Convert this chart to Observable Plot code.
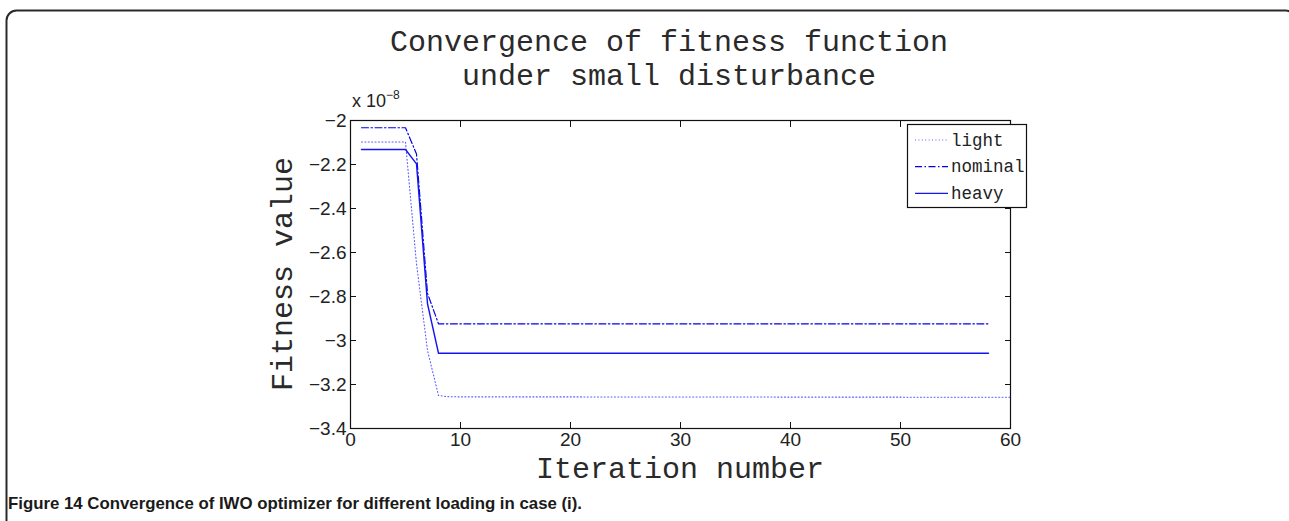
<!DOCTYPE html>
<html><head><meta charset="utf-8">
<script src="https://cdn.jsdelivr.net/npm/d3@7"></script>
<script src="https://cdn.jsdelivr.net/npm/@observablehq/plot@0.6"></script>
<style>
html,body{margin:0;padding:0;background:#fff;}
#wrap{position:relative;width:1289px;height:521px;overflow:hidden;}
#wrap svg{position:absolute;left:0;top:0;}
</style></head><body><div id="wrap"></div>
<script>
// ---- data (fitness values in units of 1e-8) ----
const xTicks = [0, 10, 20, 30, 40, 50, 60];
const yTicks = [-3.4, -3.2, -3, -2.8, -2.6, -2.4, -2.2, -2];
const seriesNames = ["light", "nominal", "heavy"];
const lightX = [1, 5, 6, 7, 8, 9, 60];
const lightY = [-2.098, -2.098, -2.651, -3.045, -3.25, -3.256, -3.258];
const nominalX = [1, 5, 6, 7, 8, 58];
const nominalY = [-2.033, -2.033, -2.152, -2.786, -2.924, -2.924];
const heavyX = [1, 5, 6, 7, 8, 58];
const heavyY = [-2.132, -2.132, -2.197, -2.833, -3.058, -3.058];
const titleLines = ["Convergence of fitness function", "under small disturbance"];
const xLabel = "Iteration number";
const yLabel = "Fitness value";
const caption = "Figure 14 Convergence of IWO optimizer for different loading in case (i).";

const W = 1289, H = 521;
const mono = "'Liberation Mono','Courier New',monospace";
const sans = "'Liberation Sans',Arial,Helvetica,sans-serif";
const styles = {
  light:   {stroke: "#5c5cff", strokeWidth: 1.1, strokeDasharray: "1,2.4"},
  nominal: {stroke: "#0000ee", strokeWidth: 1.2, strokeDasharray: "7,2.5,1.5,2.5"},
  heavy:   {stroke: "#1414f0", strokeWidth: 1.4}
};
const toRows = (xs, ys) => xs.map((x, i) => ({x, y: ys[i]}));
const data = {light: toRows(lightX, lightY), nominal: toRows(nominalX, nominalY), heavy: toRows(heavyX, heavyY)};
const fmt = d => String(d).replace("-", "\u2212");
const blank = () => "";

const plot = Plot.plot({
  width: W, height: H,
  marginLeft: 350, marginRight: W - 1010, marginTop: 120, marginBottom: H - 428,
  x: {domain: [0, 60]},
  y: {domain: [-3.4, -2]},
  style: {background: "transparent", color: "#000", overflow: "visible"},
  marks: [
    ...seriesNames.map(s => Plot.line(data[s], {x: "x", y: "y", ...styles[s]})),
    Plot.frame({stroke: "#111", strokeWidth: 1.2}),
    Plot.axisY(yTicks, {anchor: "left", tickSize: 0, tickPadding: 4, tickFormat: fmt, fontSize: 19, fontFamily: sans, fill: "#222", label: null}),
    Plot.axisY(yTicks, {anchor: "left", tickSize: 6, dx: 6, tickFormat: blank, label: null, stroke: "#111"}),
    Plot.axisY(yTicks, {anchor: "right", tickSize: 6, dx: -6, tickFormat: blank, label: null, stroke: "#111"}),
    Plot.axisX(xTicks, {anchor: "bottom", tickSize: 0, tickPadding: 4, tickFormat: fmt, fontSize: 19, fontFamily: sans, fill: "#222", label: null}),
    Plot.axisX(xTicks, {anchor: "bottom", tickSize: 6, dy: -6, tickFormat: blank, label: null, stroke: "#111"}),
    Plot.axisX(xTicks, {anchor: "top", tickSize: 6, dy: 6, tickFormat: blank, label: null, stroke: "#111"})
  ]
});
const wrap = document.getElementById("wrap");
wrap.appendChild(plot);

// ---- overlay: titles, labels, legend, caption, border ----
const svg = d3.select(wrap).append("svg").attr("width", W).attr("height", H)
  .style("pointer-events", "none");

svg.append("rect").attr("x", 6.5).attr("y", 10.5).attr("width", W).attr("height", H + 40)
  .attr("rx", 10).attr("fill", "none").attr("stroke", "#2a2a2a").attr("stroke-width", 2);

titleLines.forEach((t, i) => svg.append("text").attr("x", 669).attr("y", 40 + i * 34)
  .attr("text-anchor", "middle").attr("dy", "0.35em").attr("font-family", mono)
  .attr("font-size", 30).attr("fill", "#2a2a2a").text(t));

svg.append("text").attr("x", 680).attr("y", 467).attr("text-anchor", "middle").attr("dy", "0.35em")
  .attr("font-family", mono).attr("font-size", 30).attr("fill", "#2a2a2a").text(xLabel);

svg.append("text").attr("transform", "translate(281,274) rotate(-90)").attr("text-anchor", "middle")
  .attr("dy", "0.35em").attr("font-family", mono).attr("font-size", 30).attr("fill", "#2a2a2a").text(yLabel);

const mult = svg.append("text").attr("x", 352).attr("y", 107).attr("font-family", sans)
  .attr("font-size", 18).attr("fill", "#222");
mult.append("tspan").text("x 10");
mult.append("tspan").attr("font-size", 12).attr("dy", -8).text("\u22128");

// legend
const lg = svg.append("g");
lg.append("rect").attr("x", 907.5).attr("y", 124.5).attr("width", 119).attr("height", 83)
  .attr("fill", "#fff").attr("stroke", "#111").attr("stroke-width", 1.2);
seriesNames.forEach((s, i) => {
  const yy = 140 + i * 26.7;
  const st = styles[s];
  lg.append("line").attr("x1", 915).attr("x2", 948).attr("y1", yy).attr("y2", yy)
    .attr("stroke", st.stroke).attr("stroke-width", st.strokeWidth)
    .attr("stroke-dasharray", st.strokeDasharray || null);
  lg.append("text").attr("x", 951).attr("y", yy).attr("dy", "0.32em").attr("font-family", mono)
    .attr("font-size", 17.5).attr("fill", "#222").text(s);
});

// caption
svg.append("text").attr("x", 8).attr("y", 509).attr("font-family", sans)
  .attr("font-size", 17).attr("font-weight", "bold").attr("fill", "#1a1a1a")
  .attr("textLength", 574).attr("lengthAdjust", "spacingAndGlyphs").text(caption);
</script></body></html>
